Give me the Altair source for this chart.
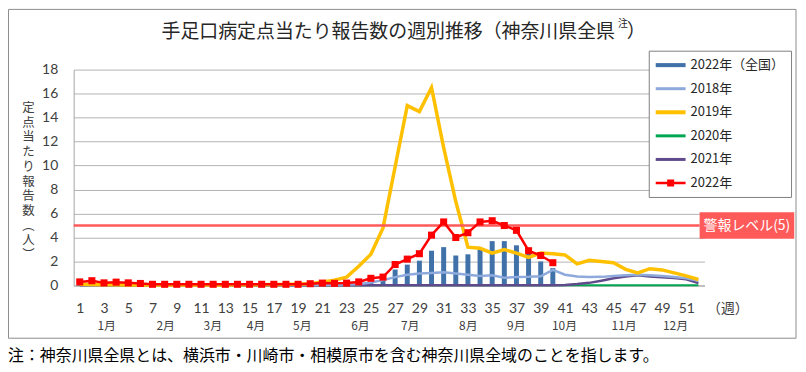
import json
import altair as alt
import pandas as pd

# ---------------- data ----------------
weeks = list(range(1, 53))
weeks_2022 = list(range(1, 41))

national_2022 = [0.05, 0.05, 0.04, 0.04, 0.04, 0.03, 0.03, 0.03, 0.03, 0.03,
                 0.03, 0.03, 0.03, 0.03, 0.03, 0.03, 0.04, 0.04, 0.05, 0.06,
                 0.08, 0.10, 0.15, 0.20, 0.30, 0.50, 1.33, 1.74, 2.07, 2.90,
                 3.20, 2.50, 2.60, 3.00, 3.70, 3.70, 3.35, 2.80, 2.00, 1.45]

kanagawa_2018 = [0.06, 0.05, 0.05, 0.05, 0.04, 0.04, 0.04, 0.04, 0.04, 0.04,
                 0.04, 0.04, 0.04, 0.04, 0.04, 0.05, 0.05, 0.05, 0.05, 0.06,
                 0.06, 0.07, 0.08, 0.10, 0.25, 0.45, 0.70, 0.90, 1.00, 1.05,
                 1.10, 1.00, 0.90, 0.80, 0.85, 0.65, 0.70, 0.72, 0.77, 1.30,
                 0.90, 0.75, 0.70, 0.72, 0.80, 0.85, 0.90, 0.85, 0.80, 0.70,
                 0.60, 0.40]

kanagawa_2019 = [0.10, 0.08, 0.06, 0.06, 0.05, 0.05, 0.05, 0.05, 0.05, 0.05,
                 0.05, 0.05, 0.05, 0.06, 0.06, 0.07, 0.08, 0.09, 0.12, 0.15,
                 0.30, 0.45, 0.70, 1.60, 2.60, 4.80, 9.90, 15.0, 14.5, 16.5,
                 11.5, 7.00, 3.20, 3.10, 2.70, 3.00, 2.70, 2.35, 2.70, 2.65,
                 2.55, 1.80, 2.10, 2.00, 1.90, 1.35, 1.05, 1.40, 1.30, 1.05,
                 0.80, 0.50]

kanagawa_2020 = [0.05, 0.05, 0.04, 0.04, 0.03, 0.03, 0.03, 0.02, 0.02, 0.02,
                 0.02, 0.02, 0.02, 0.02, 0.02, 0.02, 0.02, 0.02, 0.02, 0.02,
                 0.02, 0.02, 0.02, 0.02, 0.02, 0.02, 0.02, 0.02, 0.02, 0.02,
                 0.02, 0.02, 0.02, 0.02, 0.02, 0.02, 0.02, 0.02, 0.02, 0.02,
                 0.02, 0.02, 0.02, 0.02, 0.02, 0.02, 0.02, 0.02, 0.02, 0.02,
                 0.02, 0.02]

kanagawa_2021 = [0.02, 0.02, 0.02, 0.02, 0.02, 0.02, 0.02, 0.02, 0.02, 0.02,
                 0.02, 0.02, 0.02, 0.02, 0.02, 0.02, 0.02, 0.02, 0.02, 0.02,
                 0.02, 0.02, 0.02, 0.02, 0.02, 0.02, 0.02, 0.02, 0.02, 0.02,
                 0.02, 0.02, 0.02, 0.02, 0.02, 0.02, 0.02, 0.02, 0.02, 0.03,
                 0.05, 0.12, 0.22, 0.40, 0.60, 0.75, 0.85, 0.75, 0.68, 0.62,
                 0.52, 0.20]

kanagawa_2022 = [0.30, 0.40, 0.22, 0.28, 0.22, 0.17, 0.10, 0.10, 0.10, 0.10,
                 0.10, 0.10, 0.10, 0.10, 0.10, 0.10, 0.10, 0.10, 0.10, 0.15,
                 0.20, 0.18, 0.20, 0.30, 0.60, 0.70, 1.75, 2.20, 2.65, 4.20,
                 5.30, 4.00, 4.40, 5.30, 5.40, 5.00, 4.60, 2.90, 2.50, 1.90]

alert_level = 5
alert_label = "警報レベル(5)"

legend_labels = ["2022年（全国）", "2018年", "2019年", "2020年", "2021年", "2022年"]

week_ticks = list(range(1, 52, 2))
month_names = ["1月", "2月", "3月", "4月", "5月", "6月",
               "7月", "8月", "9月", "10月", "11月", "12月"]
month_pos = [3.18, 8.05, 11.93, 15.49, 19.31, 24.1,
             28.2, 32.99, 36.95, 40.92, 45.84, 50.07]
y_ticks = [0, 2, 4, 6, 8, 10, 12, 14, 16, 18]

title_main = "手足口病定点当たり報告数の週別推移（神奈川県全県"
title_sup = "注"
title_close = "）"
y_title = ["定", "点", "当", "た", "り", "報", "告", "数", "︵", "人", "︶"]
x_title = "（週）"
footnote = "注：神奈川県全県とは、横浜市・川崎市・相模原市を含む神奈川県全域のことを指します。"

# ---------------- styles ----------------
CJK = "Noto Sans CJK JP"
NUM = "Lato"
TXT = "#404040"
C_NAT = "#4071A8"
C_2018 = "#8EA9DB"
C_2019 = "#FFC000"
C_2020 = "#00A651"
C_2021 = "#5F4B8B"
C_2022 = "#FF0000"
C_ALERT = "#FF5A5A"
legend_colors = [C_NAT, C_2018, C_2019, C_2020, C_2021, C_2022]
legend_shapes = [
    "M-1,-0.27H3V0.27H-1Z",
    "M-1,-0.2H3V0.2H-1Z",
    "M-1,-0.27H3V0.27H-1Z",
    "M-1,-0.2H3V0.2H-1Z",
    "M-1,-0.2H3V0.2H-1Z",
    "M-1,-0.17H3V0.17H-1Z M0.53,-0.47H1.47V0.47H0.53Z",
]

W, H = 634, 217

pos_js = json.dumps(month_pos)
names_js = json.dumps(month_names, ensure_ascii=False)
is_month = f"indexof({pos_js}, datum.value) >= 0"
label_expr = f"{is_month} ? ['', {names_js}[indexof({pos_js}, datum.value)]] : datum.label"

x_scale = alt.Scale(domain=[0.5, 52.5], nice=False, zero=False, padding=0)
y_scale = alt.Scale(domain=[0, 18], nice=False, zero=False, padding=0)

x_axis = alt.Axis(
    values=week_ticks + month_pos, grid=False, ticks=False, tickSize=0,
    domain=True, domainColor="#A6A6A6",
    labelExpr=label_expr, labelOverlap=False, labelFlush=False, labelBound=False,
    labelFont={"condition": {"test": is_month, "value": CJK}, "value": NUM},
    labelFontSize={"condition": {"test": is_month, "value": 12}, "value": 14},
    labelLineHeight=19, labelPadding=16, labelColor=TXT,
    title=x_title, titleX=657, titleY=16, titleAlign="center", titleBaseline="top",
    titleFont=CJK, titleFontSize=14, titleFontWeight="normal", titleColor=TXT,
)
y_axis = alt.Axis(
    values=y_ticks, grid=True, gridColor="#B3B3B3", gridWidth=1,
    domain=True, domainColor="#A6A6A6", ticks=False, tickSize=0,
    labelFont=NUM, labelFontSize=14, labelColor=TXT, labelPadding=16,
    title=y_title, titleAngle=0, titleAlign="center", titleBaseline="top",
    titleX=-46, titleY=32, titleFont=CJK, titleFontSize=12.5, titleLineHeight=14.8,
    titleFontWeight="normal", titleColor=TXT,
)


def X(field="week"):
    return alt.X(f"{field}:Q", scale=x_scale, axis=x_axis)


def Y(field="value"):
    return alt.Y(f"{field}:Q", scale=y_scale, axis=y_axis)


def XD(v):
    return alt.X(datum=v, scale=x_scale, axis=x_axis)


def YD(v):
    return alt.Y(datum=v, scale=y_scale, axis=y_axis)


def series_df(w, vals):
    return pd.DataFrame({"week": w, "value": vals})


bars = alt.Chart(series_df(weeks_2022, national_2022)).mark_bar(
    size=5, color=C_NAT).encode(x=X(), y=Y())


def line(vals, color, width, w=weeks):
    return alt.Chart(series_df(w, vals)).mark_line(
        color=color, strokeWidth=width).encode(x=X(), y=Y())


l2020 = line(kanagawa_2020, C_2020, 2)
l2021 = line(kanagawa_2021, C_2021, 2.5)
l2018 = line(kanagawa_2018, C_2018, 2.5)
l2019 = line(kanagawa_2019, C_2019, 3.5)

l2022 = alt.Chart(series_df(weeks_2022, kanagawa_2022)).mark_line(
    color=C_2022, strokeWidth=2.5,
    point=alt.OverlayMarkDef(shape="square", size=50, filled=True,
                             color=C_2022, opacity=1),
).encode(x=X(), y=Y())

alert_df = pd.DataFrame({"label": [alert_label]})
alert_rule = alt.Chart(alert_df).mark_rule(color=C_ALERT, strokeWidth=2.5).encode(
    x=XD(0.5), x2=alt.X2(datum=52.1), y=YD(alert_level))
alert_box = alt.Chart(alert_df).mark_rect(color=C_ALERT).encode(
    x=XD(52.1), x2=alt.X2(datum=59.9),
    y=YD(alert_level - 1.1), y2=alt.Y2(datum=alert_level + 1.1))
alert_text = alt.Chart(alert_df).mark_text(
    color="white", font=CJK, fontSize=14, align="center", baseline="middle").encode(
    x=XD(56.0), y=YD(alert_level), text="label:N")

legend_def = dict(
    orient="none", legendX=578, legendY=-19, title=None, padding=7,
    strokeColor="#7F7F7F", fillColor="white", cornerRadius=0,
    labelFont=CJK, labelFontSize=13, labelColor="#262626",
    labelOffset=20, rowPadding=8.7, symbolStrokeWidth=0, symbolOpacity=1,
    symbolSize=225, labelLimit=0,
)
legend_layer = alt.Chart(pd.DataFrame({"series": legend_labels})).mark_point(
    filled=True, opacity=1, size=225, strokeWidth=0,
).encode(
    color=alt.Color("series:N", scale=alt.Scale(domain=legend_labels, range=legend_colors),
                    legend=alt.Legend(**legend_def)),
    shape=alt.Shape("series:N", scale=alt.Scale(domain=legend_labels, range=legend_shapes),
                    legend=alt.Legend(**legend_def)),
).transform_filter("false")

border = alt.Chart(pd.DataFrame({"b": [0]})).mark_rect(
    fill="white", fillOpacity=0, stroke="#8C8C8C", strokeWidth=1).encode(
    x=alt.value(-65.5), x2=alt.value(726), y=alt.value(-60.5), y2=alt.value(270))


def text_layer(txt, x, y, size, align="left", color="#262626"):
    return alt.Chart(pd.DataFrame({"t": [txt]})).mark_text(
        font=CJK, fontSize=size, align=align, baseline="middle", color=color).encode(
        x=alt.value(x), y=alt.value(y), text="t:N")


t_main = text_layer(title_main, 544, -38, 19, align="right")
t_sup = text_layer(title_sup, 547, -46, 10)
t_close = text_layer(title_close, 556, -38, 19)
t_foot = text_layer(footnote, -66, 288, 16, color="#000000")

chart = alt.layer(
    border, bars, l2020, l2021, l2018, l2019,
    alert_rule, alert_box, alert_text, l2022, legend_layer,
    t_main, t_sup, t_close, t_foot,
).resolve_scale(color="independent", shape="independent").properties(
    width=W, height=H,
    autosize=alt.AutoSizeParams(type="none"),
    padding={"left": 66, "top": 61, "right": 94, "bottom": 80},
    background="white",
).configure_view(stroke=None)

chart.save("out.html", embed_options={"renderer": "svg", "actions": False})
